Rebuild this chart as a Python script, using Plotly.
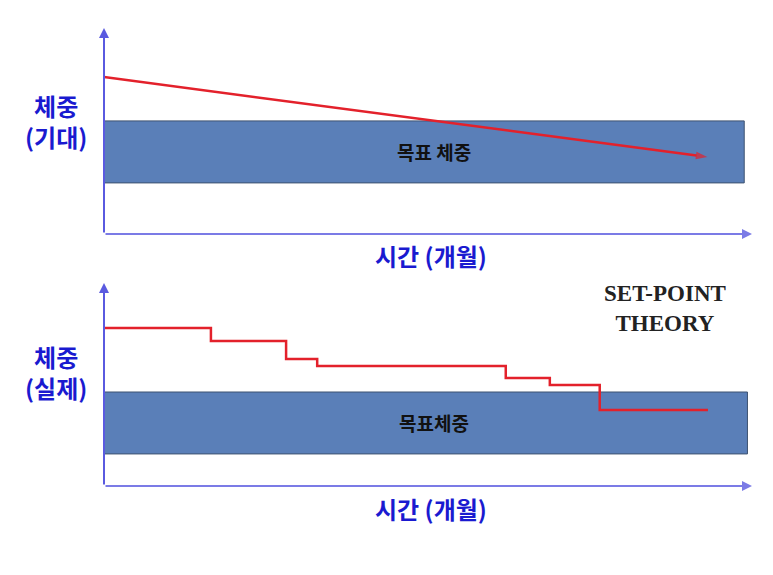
import plotly.graph_objects as go

# the page has an 8px body margin, so the figure is a bit smaller than the window
W, H = 765, 567
OFF = 8

# 상단: 기대 체중 (직선 감소)
expect_x = [0, 93.1]
expect_y = [76.2, 37.4]

# 하단: 실제 체중 (계단식 감소)
actual_x = [0, 16.5, 28.1, 32.9, 62.0, 68.8, 76.5, 93.2]
actual_y = [77.8, 71.4, 62.6, 59.1, 53.2, 49.8, 37.4, 37.4]

# 목표 체중 구간 (x 끝, y 하한, y 상한)
target_top = [98.8, 24.8, 54.9]
target_bottom = [99.3, 15.8, 46.3]

target_labels = ["목표 체중", "목표체중"]
y_labels = ["체중<br>(기대)", "체중<br>(실제)"]
x_label = "시간 (개월)"

KR = "Noto Sans CJK KR"
BLUE_TXT = "#1a1ad0"
AXIS = "#7b7be6"
BAND = "#5a7fb8"
RED = "#e3212b"


def px(x):
    return (x - OFF) / W


def py(y):
    return 1 - (y - OFF) / H


def label(x, y, text, size, family=KR, color=BLUE_TXT):
    return dict(xref="paper", yref="paper", x=px(x), y=py(y), text=text,
                showarrow=False, xanchor="center", yanchor="middle",
                font=dict(family=family, size=size, color=color))


fig = go.Figure()

fig.add_trace(go.Scatter(
    x=expect_x, y=expect_y, mode="lines+markers",
    line=dict(color=RED, width=2.5),
    marker=dict(symbol="arrow", size=[0, 12], angleref="previous", color=RED,
                line=dict(width=0)),
    xaxis="x", yaxis="y", showlegend=False, hoverinfo="skip"))

fig.add_trace(go.Scatter(
    x=actual_x, y=actual_y, mode="lines", line_shape="hv",
    line=dict(color=RED, width=2.5),
    xaxis="x2", yaxis="y2", showlegend=False, hoverinfo="skip"))

shapes = []
annotations = []
for i, (band, xa, ya) in enumerate([(target_top, "x", "y"), (target_bottom, "x2", "y2")]):
    shapes.append(dict(type="rect", xref=xa, yref=ya, x0=0, x1=band[0],
                       y0=band[1], y1=band[2], fillcolor=BAND,
                       line=dict(color="#3d5270", width=1), layer="below"))
    annotations.append(dict(xref=xa, yref=ya, x=51, y=(band[1] + band[2]) / 2,
                            text="<b>%s</b>" % target_labels[i], showarrow=False,
                            xanchor="center", yanchor="middle",
                            font=dict(family=KR, size=19, color="#111")))
    # 축 화살표
    annotations.append(dict(xref=xa, yref=ya, axref=xa, ayref=ya, x=100, y=0,
                            ax=0, ay=0, text="", showarrow=True, arrowhead=2,
                            arrowsize=1, arrowwidth=2, arrowcolor=AXIS))
    annotations.append(dict(xref=xa, yref=ya, axref=xa, ayref=ya, x=0, y=100,
                            ax=0, ay=0, text="", showarrow=True, arrowhead=2,
                            arrowsize=1, arrowwidth=2, arrowcolor="#5a5ae0"))

for txt, yc in zip(y_labels, [121, 372]):
    annotations.append(label(56, yc, "<b>%s</b>" % txt, 24))

for yy in [255, 508]:
    annotations.append(label(431, yy, "<b>%s</b>" % x_label, 24))

annotations.append(label(665, 308, "<b>SET-POINT<br>THEORY</b>", 23,
                         family="Liberation Serif", color="#222"))

ax_common = dict(showgrid=False, zeroline=False, showticklabels=False,
                 showline=False, ticks="", fixedrange=True)
dom_x = [px(104), px(752)]

fig.update_layout(
    width=W, height=H, margin=dict(l=0, r=0, t=0, b=0),
    paper_bgcolor="white", plot_bgcolor="white",
    xaxis=dict(domain=dom_x, range=[0, 100], anchor="y", **ax_common),
    yaxis=dict(domain=[py(234), py(28)], range=[0, 100], anchor="x", **ax_common),
    xaxis2=dict(domain=dom_x, range=[0, 100], anchor="y2", **ax_common),
    yaxis2=dict(domain=[py(486), py(283)], range=[0, 100], anchor="x2", **ax_common),
    shapes=shapes, annotations=annotations,
)

fig.write_html("out.html")
